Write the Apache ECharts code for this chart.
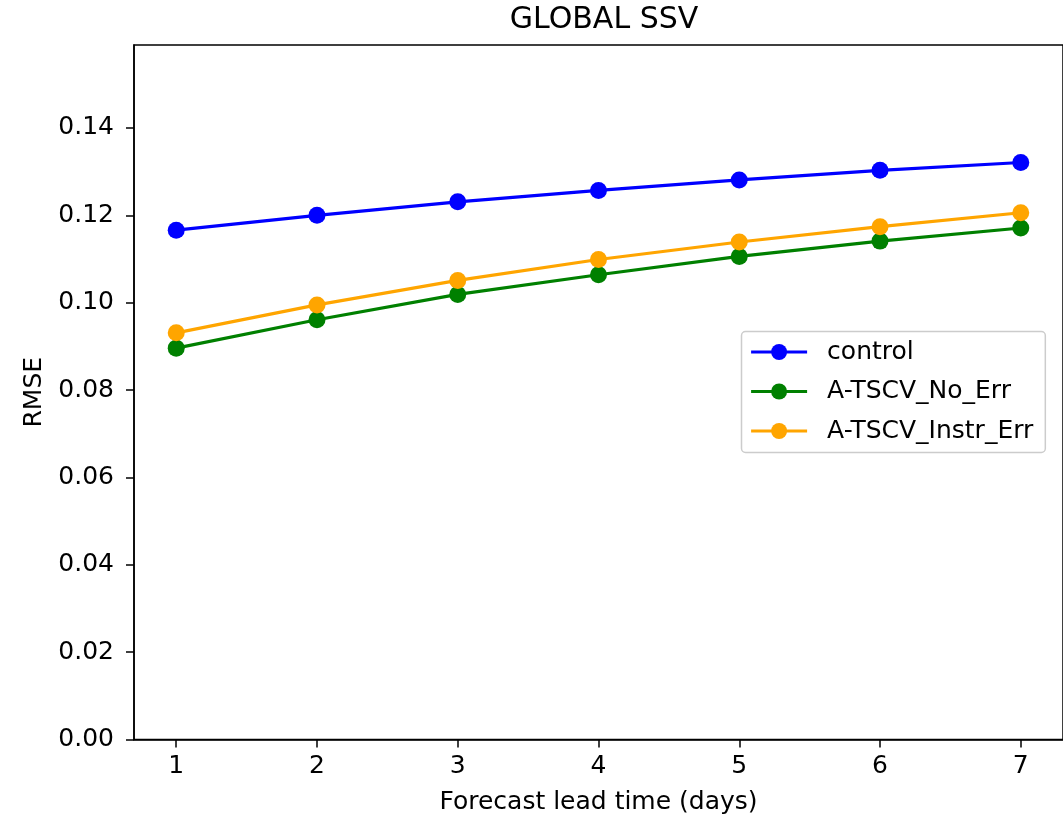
<!DOCTYPE html>
<html>
<head>
<meta charset="utf-8">
<script src="https://cdn.jsdelivr.net/npm/echarts@6/dist/echarts.min.js"></script>
<style>
  html, body { margin: 0; padding: 0; background: #fff; }
  #chart { width: 1063px; height: 820px; }
</style>
</head>
<body>
<div id="chart"></div>
<script>
// Forecast lead times (days) and RMSE per experiment
const leadDays = [1, 2, 3, 4, 5, 6, 7];
const control = [0.1166, 0.1200, 0.1231, 0.1257, 0.1281, 0.1303, 0.1321];
const noErr = [0.0896, 0.0961, 0.1019, 0.1064, 0.1106, 0.1141, 0.1171];
const instrErr = [0.0931, 0.0995, 0.1051, 0.1099, 0.1139, 0.1174, 0.1206];
const yTicks = [0, 0.02, 0.04, 0.06, 0.08, 0.10, 0.12, 0.14];

const FONT = 'DejaVu Sans';
const pairs = arr => leadDays.map((d, i) => [d, arr[i]]);

const lineSeries = (name, color, values) => ({
  name: name,
  type: 'line',
  data: pairs(values),
  symbol: 'circle',
  symbolSize: 17,
  itemStyle: { color: color },
  lineStyle: { color: color, width: 3.2 },
  emphasis: { disabled: true },
  animation: false
});

const chart = echarts.init(document.getElementById('chart'), null, { renderer: 'canvas' });
chart.setOption({
  backgroundColor: '#ffffff',
  animation: false,
  title: {
    text: 'GLOBAL SSV',
    left: 599,
    textAlign: 'center',
    top: 0,
    textStyle: { fontFamily: FONT, fontSize: 30, fontWeight: 'normal', color: '#000' }
  },
  grid: {
    left: 134, right: 0, top: 45, bottom: 80.5,
    show: true, borderColor: '#000', borderWidth: 1.5, backgroundColor: '#fff'
  },
  legend: {
    orient: 'vertical',
    left: 741.5,
    top: 331.5,
    width: 309,
    itemWidth: 56,
    itemHeight: 20,
    itemGap: 14.5,
    padding: [8, 12, 9, 8],
    backgroundColor: '#fff',
    borderColor: '#cccccc',
    borderWidth: 1.5,
    borderRadius: 4,
    lineStyle: { width: 3.2 },
    textStyle: {
      fontFamily: FONT, fontSize: 25, color: '#000',
      lineHeight: 25, padding: [0, 0, 0, 15]
    },
    data: ['control', 'A-TSCV_No_Err', 'A-TSCV_Instr_Err']
  },
  xAxis: {
    type: 'value',
    min: 0.7,
    max: 7.3,
    name: 'Forecast lead time (days)',
    nameLocation: 'middle',
    nameGap: 50,
    nameTextStyle: { fontFamily: FONT, fontSize: 25, color: '#000' },
    axisLine: { show: true, lineStyle: { color: '#000', width: 1.5 } },
    axisTick: { show: true, length: 8, customValues: leadDays, lineStyle: { color: '#000', width: 1.5 } },
    axisLabel: {
      customValues: leadDays,
      margin: 14,
      fontFamily: FONT, fontSize: 25, color: '#000',
      formatter: v => String(v)
    },
    splitLine: { show: false }
  },
  yAxis: {
    type: 'value',
    min: 0,
    max: 0.159,
    name: 'RMSE',
    nameLocation: 'middle',
    nameGap: 87,
    nameTextStyle: { fontFamily: FONT, fontSize: 25, color: '#000' },
    axisLine: { show: true, lineStyle: { color: '#000', width: 1.5 } },
    axisTick: { show: true, length: 8, customValues: yTicks, lineStyle: { color: '#000', width: 1.5 } },
    axisLabel: {
      customValues: yTicks,
      margin: 20,
      fontFamily: FONT, fontSize: 25, color: '#000',
      formatter: v => v.toFixed(2)
    },
    splitLine: { show: false }
  },
  series: [
    lineSeries('control', '#0000ff', control),
    lineSeries('A-TSCV_No_Err', '#008000', noErr),
    lineSeries('A-TSCV_Instr_Err', '#ffa500', instrErr)
  ]
});
</script>
</body>
</html>
